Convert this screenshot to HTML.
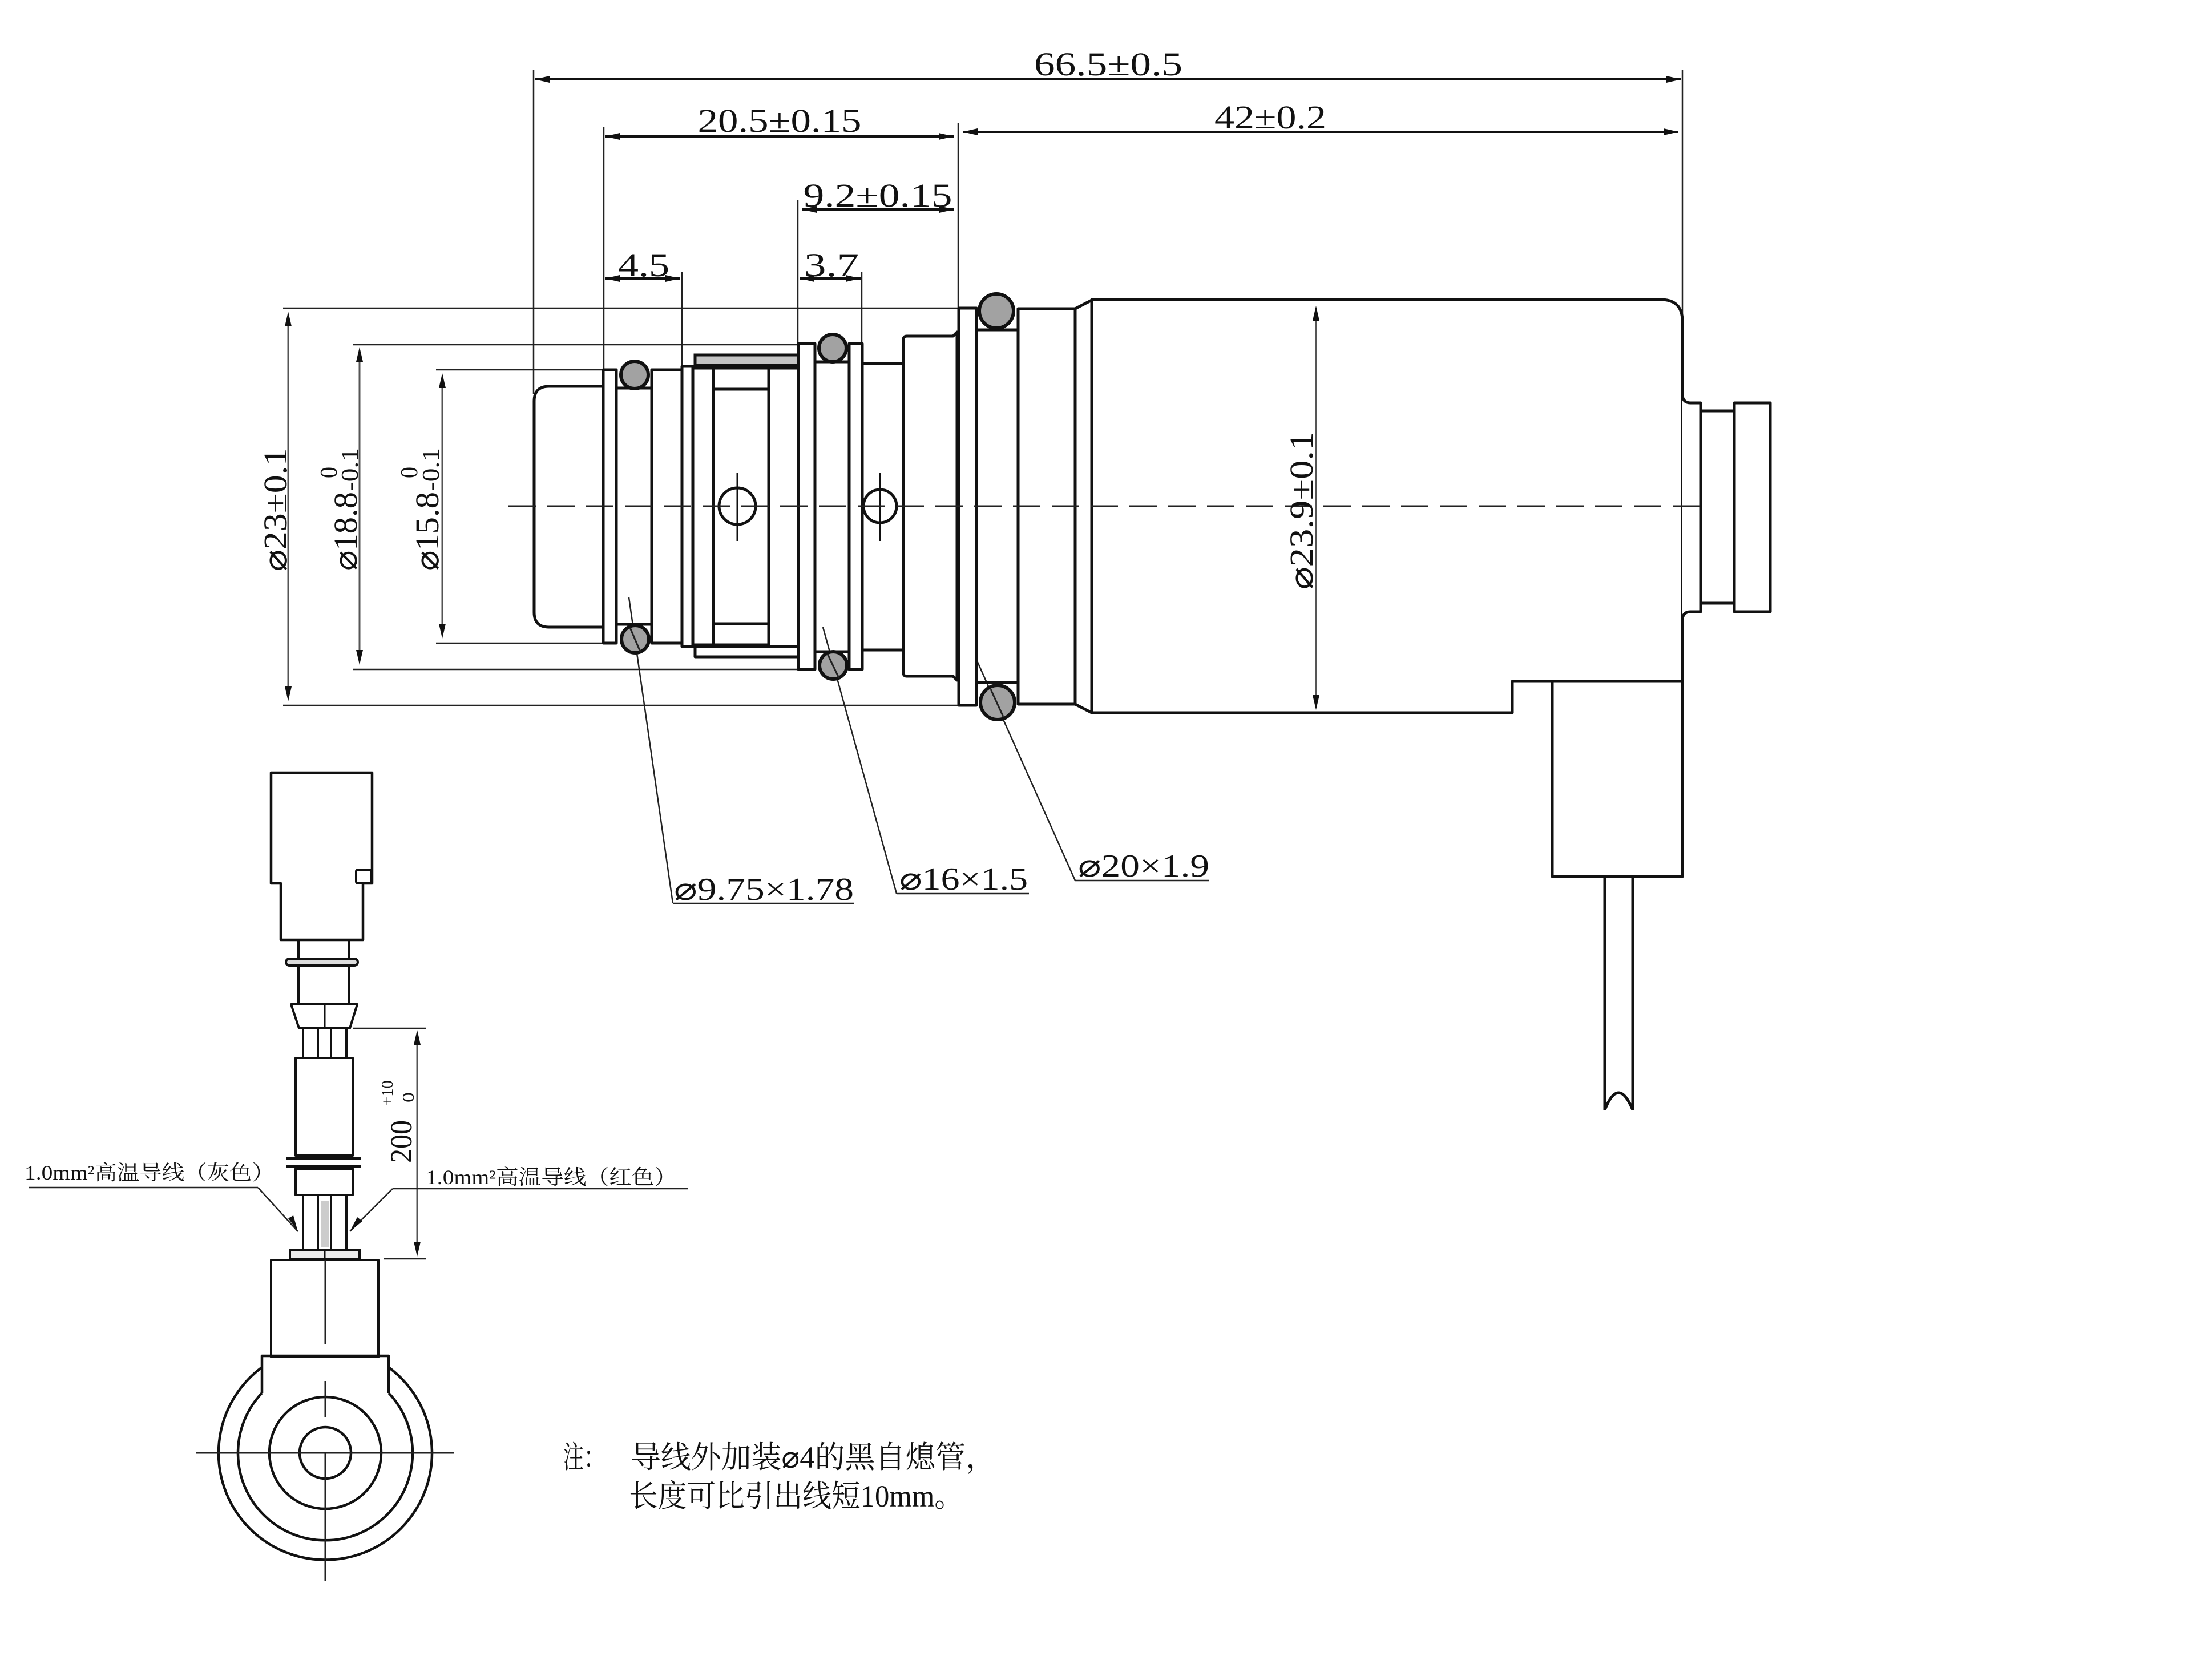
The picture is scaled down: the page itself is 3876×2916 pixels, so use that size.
<!DOCTYPE html>
<html><head><meta charset="utf-8"><style>
html,body{margin:0;padding:0;background:#fff;}
svg{display:block;}
.o{fill:#fff;stroke:#111;stroke-width:5;stroke-linejoin:round;}
.n{fill:none;stroke:#111;stroke-width:5;stroke-linejoin:round;}
.t{fill:none;stroke:#222;stroke-width:2.5;}
.d{fill:none;stroke:#111;stroke-width:4;}
.g{fill:none;stroke:#555;stroke-width:3;}
.ar{fill:#111;stroke:none;}
.ring{fill:#a2a2a2;stroke:#111;stroke-width:6;}
text{font-family:"Liberation Serif","DejaVu Serif","DejaVu Sans",serif;fill:#111;}
.cj{font-family:"Liberation Serif","Noto Serif CJK SC","Noto Sans CJK SC",serif;fill:#111;}
</style></head><body>
<svg width="3876" height="2916" viewBox="0 0 3876 2916" xmlns="http://www.w3.org/2000/svg">
<rect width="3876" height="2916" fill="#fff"/>

<!-- ===== top dimensions ===== -->
<g>
<line class="t" x1="935" y1="122" x2="935" y2="690"/>
<line class="t" x1="2948" y1="122" x2="2948" y2="563"/>
<line class="d" x1="937" y1="139" x2="2946" y2="139"/>
<polygon class="ar" points="937,139 963,133 963,145"/><polygon class="ar" points="2946,139 2920,133 2920,145"/>
<text x="1942" y="132" font-size="58" text-anchor="middle" textLength="260" lengthAdjust="spacingAndGlyphs">66.5±0.5</text>

<line class="t" x1="1058" y1="222" x2="1058" y2="648"/>
<line class="t" x1="1679" y1="216" x2="1679" y2="540"/>
<line class="d" x1="1060" y1="239" x2="1671" y2="239"/>
<polygon class="ar" points="1060,239 1086,233 1086,245"/><polygon class="ar" points="1671,239 1645,233 1645,245"/>
<text x="1366" y="231" font-size="58" text-anchor="middle" textLength="287" lengthAdjust="spacingAndGlyphs">20.5±0.15</text>

<line class="d" x1="1687" y1="231" x2="2941" y2="231"/>
<polygon class="ar" points="1687,231 1713,225 1713,237"/><polygon class="ar" points="2941,231 2915,225 2915,237"/>
<text x="2226" y="225" font-size="58" text-anchor="middle" textLength="196" lengthAdjust="spacingAndGlyphs">42±0.2</text>

<line class="t" x1="1398" y1="350" x2="1398" y2="602"/>
<line class="d" x1="1405" y1="367" x2="1672" y2="367"/>
<polygon class="ar" points="1405,367 1431,361 1431,373"/><polygon class="ar" points="1672,367 1646,361 1646,373"/>
<text x="1538" y="362" font-size="58" text-anchor="middle" textLength="261" lengthAdjust="spacingAndGlyphs">9.2±0.15</text>

<line class="t" x1="1195" y1="476" x2="1195" y2="642"/>
<line class="d" x1="1060" y1="488" x2="1192" y2="488"/>
<polygon class="ar" points="1060,488 1086,482 1086,494"/><polygon class="ar" points="1192,488 1166,482 1166,494"/>
<text x="1128" y="484" font-size="58" text-anchor="middle" textLength="90" lengthAdjust="spacingAndGlyphs">4.5</text>

<line class="t" x1="1510" y1="476" x2="1510" y2="602"/>
<line class="d" x1="1401" y1="488" x2="1508" y2="488"/>
<polygon class="ar" points="1401,488 1427,482 1427,494"/><polygon class="ar" points="1508,488 1482,482 1482,494"/>
<text x="1457" y="484" font-size="58" text-anchor="middle" textLength="96" lengthAdjust="spacingAndGlyphs">3.7</text>
</g>

<!-- ===== left diameter dimensions ===== -->
<g>
<line class="t" x1="496" y1="540" x2="1680" y2="540"/>
<line class="t" x1="496" y1="1236" x2="1680" y2="1236"/>
<line class="t" x1="619" y1="604" x2="1399" y2="604"/>
<line class="t" x1="619" y1="1173" x2="1399" y2="1173"/>
<line class="t" x1="764" y1="648" x2="1057" y2="648"/>
<line class="t" x1="764" y1="1127" x2="1057" y2="1127"/>

<line class="g" x1="505" y1="560" x2="505" y2="1215"/>
<polygon class="ar" points="505,546 499,572 511,572"/><polygon class="ar" points="505,1229 499,1203 511,1203"/>
<line class="g" x1="630" y1="620" x2="630" y2="1153"/>
<polygon class="ar" points="630,608 624,634 636,634"/><polygon class="ar" points="630,1165 624,1139 636,1139"/>
<line class="g" x1="775" y1="666" x2="775" y2="1107"/>
<polygon class="ar" points="775,654 769,680 781,680"/><polygon class="ar" points="775,1119 769,1093 781,1093"/>

<text x="502" y="893" font-size="58" text-anchor="middle" textLength="217" lengthAdjust="spacingAndGlyphs" transform="rotate(-90 502 893)">⌀23±0.1</text>

<text x="625" y="1000" font-size="58" textLength="138" lengthAdjust="spacingAndGlyphs" transform="rotate(-90 625 1000)">⌀18.8</text>
<text x="627" y="860" font-size="42" textLength="75" lengthAdjust="spacingAndGlyphs" transform="rotate(-90 627 860)">-0.1</text>
<text x="590" y="838" font-size="42" textLength="20" lengthAdjust="spacingAndGlyphs" transform="rotate(-90 590 838)">0</text>

<text x="768" y="1000" font-size="58" textLength="138" lengthAdjust="spacingAndGlyphs" transform="rotate(-90 768 1000)">⌀15.8</text>
<text x="769" y="860" font-size="42" textLength="75" lengthAdjust="spacingAndGlyphs" transform="rotate(-90 769 860)">-0.1</text>
<text x="731" y="838" font-size="42" textLength="20" lengthAdjust="spacingAndGlyphs" transform="rotate(-90 731 838)">0</text>
</g>

<!-- ===== leaders (under rings) ===== -->
<g>
<line class="t" x1="1102" y1="1047" x2="1179" y2="1583"/>
<line class="t" x1="1179" y1="1583" x2="1496" y2="1583"/>
<text x="1181" y="1577" font-size="56" textLength="315" lengthAdjust="spacingAndGlyphs">⌀9.75×1.78</text>

<line class="t" x1="1442" y1="1099" x2="1571" y2="1566"/>
<line class="t" x1="1571" y1="1566" x2="1803" y2="1566"/>
<text x="1576" y="1559" font-size="56" textLength="225" lengthAdjust="spacingAndGlyphs">⌀16×1.5</text>

<line class="t" x1="1712" y1="1158" x2="1884" y2="1543"/>
<line class="t" x1="1884" y1="1543" x2="2119" y2="1543"/>
<text x="1889" y="1536" font-size="56" textLength="230" lengthAdjust="spacingAndGlyphs">⌀20×1.9</text>
</g>

<!-- ===== main body ===== -->
<g>
<!-- front cap -->
<path class="o" d="M1057,677 H962 Q936,677 936,703 V1073 Q936,1099 962,1099 H1057"/>
<rect class="o" x="1057" y="648" width="23" height="479"/>
<line class="n" x1="1080" y1="680" x2="1142" y2="680"/>
<line class="n" x1="1080" y1="1094" x2="1142" y2="1094"/>
<rect class="o" x="1142" y="648" width="53" height="479"/>
<rect class="o" x="1195" y="642" width="19" height="491"/>
<rect x="1218" y="622" width="181" height="18" fill="#c4c4c4" stroke="#111" stroke-width="5"/>
<rect class="o" x="1218" y="1133" width="181" height="18"/>
<rect class="o" x="1214" y="645" width="36" height="485"/>
<rect class="o" x="1250" y="645" width="97" height="485"/>
<line class="n" x1="1250" y1="682" x2="1347" y2="682"/>
<line class="n" x1="1250" y1="1093" x2="1347" y2="1093"/>
<rect class="o" x="1347" y="645" width="52" height="488"/>
<rect class="o" x="1399" y="602" width="29" height="571"/>
<line class="n" x1="1428" y1="634" x2="1488" y2="634"/>
<line class="n" x1="1428" y1="1142" x2="1488" y2="1142"/>
<rect class="o" x="1488" y="602" width="23" height="571"/>
<rect class="o" x="1511" y="637" width="72" height="502"/>
<path class="o" d="M1583,595 Q1583,589 1589,589 H1670 L1677,582 V1192 L1670,1185 H1589 Q1583,1185 1583,1179 Z"/>
<rect class="o" x="1680" y="540" width="31" height="696"/>
<line class="n" x1="1711" y1="578" x2="1784" y2="578"/>
<line class="n" x1="1711" y1="1196" x2="1784" y2="1196"/>
<rect class="o" x="1784" y="541" width="100" height="693"/>
<polygon class="o" points="1884,541 1913,526 1913,1249 1884,1234"/>
<!-- main housing -->
<path class="o" d="M1913,525 H2910 Q2948,525 2948,563 V1536 H2720 V1194 H2650 V1249 H1913 Z"/>
<line class="n" x1="2720" y1="1194" x2="2948" y2="1194"/>
<!-- right end -->
<path class="o" d="M2948,694 Q2950,706 2962,706 H2980 V1072 H2962 Q2950,1072 2948,1084"/>
<rect class="o" x="2980" y="720" width="59" height="337"/>
<rect class="o" x="3039" y="706" width="63" height="366"/>
<!-- wire -->
<line class="n" x1="2812" y1="1536" x2="2812" y2="1945"/>
<line class="n" x1="2861" y1="1536" x2="2861" y2="1945"/>
<path class="n" d="M2812,1945 Q2836,1885 2861,1945"/>

<!-- holes -->
<circle class="o" cx="1292" cy="887" r="32"/>
<line class="n" x1="1292" y1="829" x2="1292" y2="948" style="stroke-width:3"/>
<circle class="o" cx="1542" cy="887" r="29"/>
<line class="n" x1="1542" y1="829" x2="1542" y2="948" style="stroke-width:3"/>

<!-- center line -->
<line x1="891" y1="887" x2="2994" y2="887" stroke="#222" stroke-width="3" stroke-dasharray="48 20"/>

<!-- o-rings -->
<circle class="ring" cx="1112" cy="657" r="24"/>
<circle class="ring" cx="1113" cy="1120" r="24"/>
<circle class="ring" cx="1459" cy="610" r="24"/>
<circle class="ring" cx="1460" cy="1166" r="24"/>
<circle class="ring" cx="1746" cy="545" r="30"/>
<circle class="ring" cx="1748" cy="1231" r="30"/>
<line x1="1104" y1="1100" x2="1122" y2="1142" stroke="#222" stroke-width="3"/>
<line x1="1450" y1="1146" x2="1470" y2="1188" stroke="#222" stroke-width="3"/>
<line x1="1736" y1="1208" x2="1758" y2="1256" stroke="#222" stroke-width="3"/>

<!-- 23.9 dim -->
<line class="g" x1="2306" y1="550" x2="2306" y2="1230"/>
<polygon class="ar" points="2306,536 2300,562 2312,562"/><polygon class="ar" points="2306,1244 2300,1218 2312,1218"/>
<text x="2300" y="895" font-size="58" text-anchor="middle" textLength="277" lengthAdjust="spacingAndGlyphs" transform="rotate(-90 2300 895)">⌀23.9±0.1</text>
</g>

<!-- ===== connector / lead drawing (bottom left) ===== -->
<g>
<path class="o" d="M475,1354 H652 V1548 H636 V1647 H492 V1548 H475 Z" style="stroke-width:4.5"/>
<rect class="o" x="624" y="1524" width="27" height="24" rx="3" style="stroke-width:4"/>
<line class="n" x1="523" y1="1647" x2="523" y2="1760" style="stroke-width:4"/>
<line class="n" x1="612" y1="1647" x2="612" y2="1760" style="stroke-width:4"/>
<rect x="501" y="1680" width="126" height="12" rx="6" fill="#ddd" stroke="#111" stroke-width="4"/>
<polygon class="o" points="510,1760 626,1760 613,1802 524,1802" style="stroke-width:4"/>
<line class="n" x1="569" y1="1760" x2="569" y2="1802" style="stroke-width:3"/>
<line class="n" x1="531" y1="1802" x2="531" y2="1854" style="stroke-width:4"/>
<line class="n" x1="557" y1="1802" x2="557" y2="1854" style="stroke-width:4"/>
<line class="n" x1="580" y1="1802" x2="580" y2="1854" style="stroke-width:4"/>
<line class="n" x1="607" y1="1802" x2="607" y2="1854" style="stroke-width:4"/>
<rect class="o" x="518" y="1854" width="100" height="171" style="stroke-width:4"/>
<line class="n" x1="502" y1="2030" x2="632" y2="2030" style="stroke-width:4"/>
<line class="n" x1="502" y1="2044" x2="632" y2="2044" style="stroke-width:4"/>
<rect class="o" x="518" y="2048" width="100" height="46" style="stroke-width:4"/>
<rect x="563" y="2105" width="13" height="80" fill="#ccc"/>
<line class="n" x1="531" y1="2094" x2="531" y2="2191" style="stroke-width:4"/>
<line class="n" x1="557" y1="2094" x2="557" y2="2191" style="stroke-width:4"/>
<line class="n" x1="580" y1="2094" x2="580" y2="2191" style="stroke-width:4"/>
<line class="n" x1="607" y1="2094" x2="607" y2="2191" style="stroke-width:4"/>
<rect x="508" y="2191" width="122" height="15" fill="#eee" stroke="#111" stroke-width="4"/>
<line class="n" x1="569" y1="2191" x2="569" y2="2206" style="stroke-width:3"/>
<rect class="o" x="475" y="2208" width="188" height="170" style="stroke-width:4"/>
<line x1="570" y1="2208" x2="570" y2="2355" stroke="#222" stroke-width="3"/>
<!-- circles -->
<path class="n" d="M459,2396 A187,187 0 1 0 681,2396" style="stroke-width:4.5"/>
<path class="n" d="M459,2441 A153,153 0 1 0 681,2441" style="stroke-width:4.5"/>
<polyline class="n" points="459,2396 459,2376 681,2376 681,2396" style="stroke-width:4.5"/>
<line class="n" x1="459" y1="2396" x2="459" y2="2441" style="stroke-width:4.5"/>
<line class="n" x1="681" y1="2396" x2="681" y2="2441" style="stroke-width:4.5"/>
<circle class="n" cx="570" cy="2546" r="98" style="stroke-width:4.5"/>
<circle class="n" cx="570" cy="2546" r="45" style="stroke-width:4.5"/>
<line x1="344" y1="2546" x2="796" y2="2546" stroke="#222" stroke-width="3"/>
<line x1="570" y1="2420" x2="570" y2="2483" stroke="#222" stroke-width="3"/>
<line x1="570" y1="2546" x2="570" y2="2770" stroke="#222" stroke-width="3"/>

<!-- 200 dim -->
<line class="t" x1="618" y1="1802" x2="746" y2="1802"/>
<line class="t" x1="672" y1="2206" x2="746" y2="2206"/>
<line class="g" x1="731" y1="1815" x2="731" y2="2192"/>
<polygon class="ar" points="731,1805 725,1831 737,1831"/><polygon class="ar" points="731,2202 725,2176 737,2176"/>
<text x="721" y="2038" font-size="54" textLength="75" lengthAdjust="spacingAndGlyphs" transform="rotate(-90 721 2038)">200</text>
<text x="688" y="1938" font-size="28" textLength="45" lengthAdjust="spacingAndGlyphs" transform="rotate(-90 688 1938)">+10</text>
<text x="725" y="1932" font-size="28" textLength="18" lengthAdjust="spacingAndGlyphs" transform="rotate(-90 725 1932)">0</text>

<!-- wire labels -->
<line class="t" x1="50" y1="2081" x2="452" y2="2081"/>
<line class="t" x1="452" y1="2081" x2="522" y2="2158"/>
<polygon class="ar" points="522,2158 505,2135 514,2130"/>
<text class="cj" x="43" y="2067" font-size="36" textLength="438" lengthAdjust="spacingAndGlyphs">1.0mm²高温导线（灰色）</text>
<line class="t" x1="688" y1="2083" x2="1206" y2="2083"/>
<line class="t" x1="688" y1="2083" x2="613" y2="2158"/>
<polygon class="ar" points="613,2158 626,2133 635,2140"/>
<text class="cj" x="746" y="2075" font-size="36" textLength="440" lengthAdjust="spacingAndGlyphs">1.0mm²高温导线（红色）</text>
</g>

<!-- ===== note ===== -->
<text class="cj" x="987" y="2572" font-size="54" textLength="72" lengthAdjust="spacingAndGlyphs">注：</text>
<text class="cj" x="1105" y="2572" font-size="54" textLength="640" lengthAdjust="spacingAndGlyphs">导线外加装⌀4的黑自熄管，</text>
<text class="cj" x="1102" y="2640" font-size="54" textLength="586" lengthAdjust="spacingAndGlyphs">长度可比引出线短10mm。</text>
</svg>
</body></html>
